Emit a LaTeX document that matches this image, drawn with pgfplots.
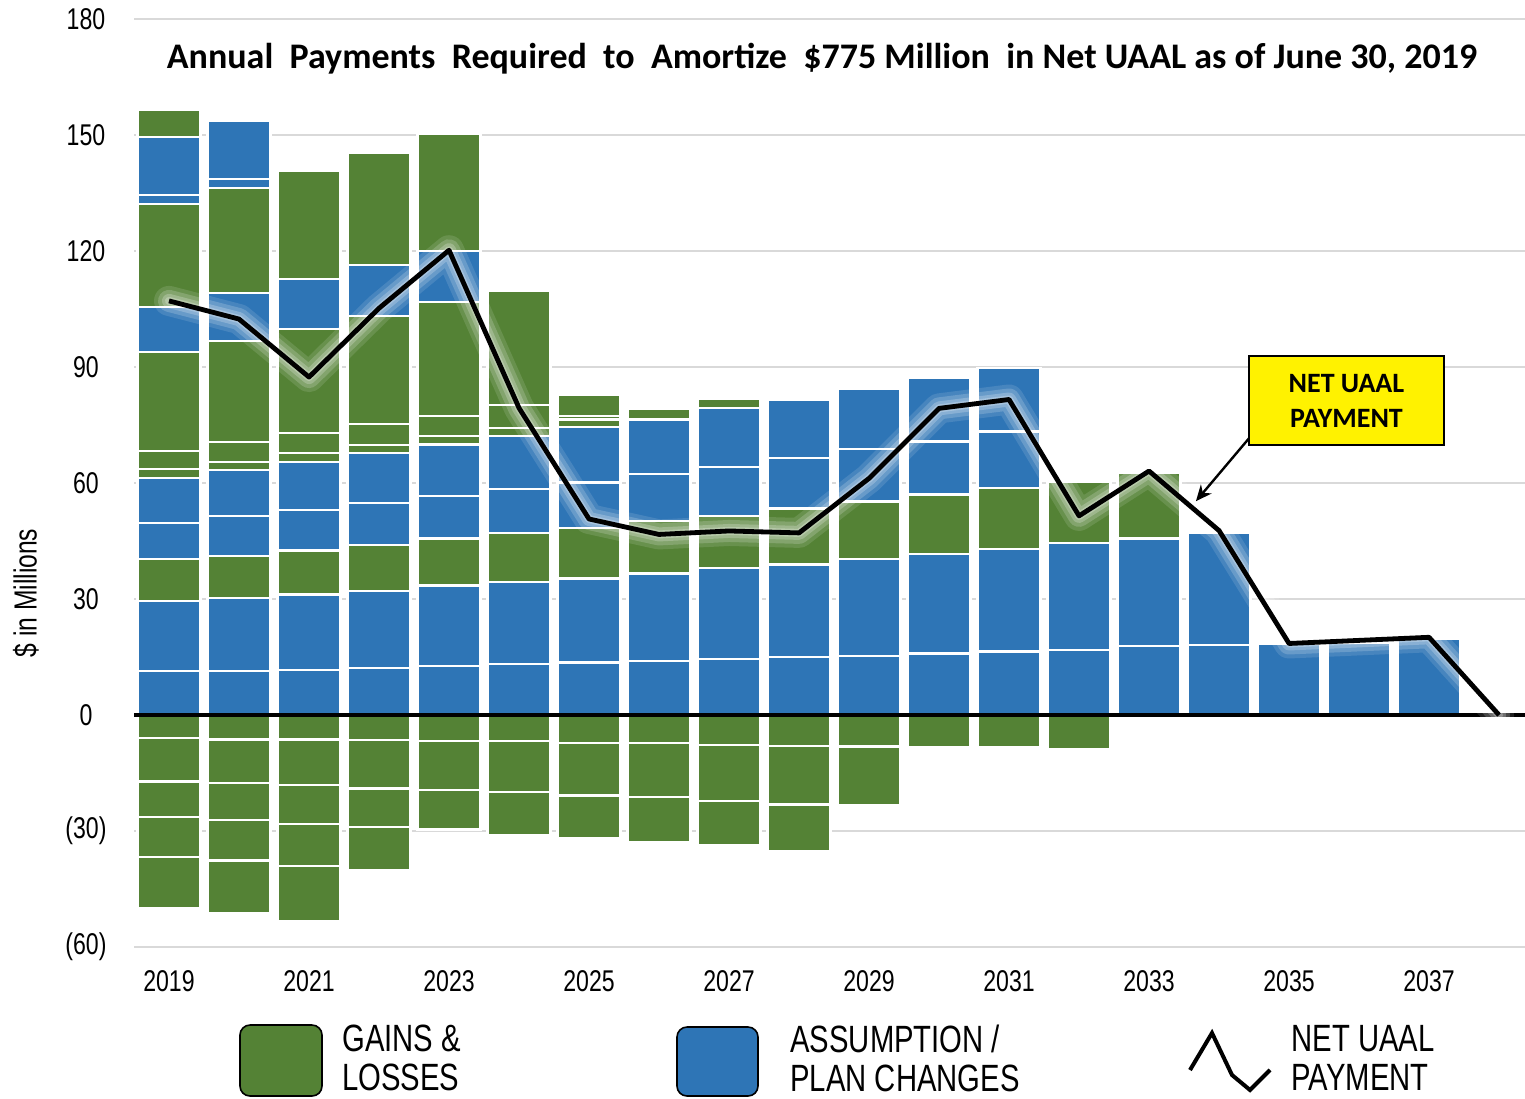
\documentclass[border=0pt]{standalone}
\usepackage{pgfplots}
\pgfplotsset{compat=1.18}
\usepackage{fontspec}
\setmainfont{Carlito}
\newfontfamily\narrow[FakeStretch=0.77]{Liberation Sans}
\usetikzlibrary{arrows.meta}
\definecolor{gl}{HTML}{548235}
\definecolor{as}{HTML}{2E75B6}
\begin{document}
\begin{tikzpicture}
\path[use as bounding box] (0pt,0pt) rectangle (762.5pt,-549pt);
\begin{axis}[
  at={(67pt,-473.5pt)}, anchor=south west,
  scale only axis, width=695.5pt, height=464pt,
  xmin=2018.5, xmax=2038.371, ymin=-60, ymax=180,
  axis line style={draw=none},
  major tick length=0pt,
  ytick={-60,-30,0,30,60,90,120,150,180},
  yticklabels={(60),(30),0,30,60,90,120,150,180},
  xtick={2019,2021,2023,2025,2027,2029,2031,2033,2035,2037},
  xticklabels={2019,2021,2023,2025,2027,2029,2031,2033,2035,2037},
  ymajorgrids, grid style={line width=1pt, color=black!15},
  yticklabel style={font=\narrow\fontsize{15}{16}\selectfont, anchor=center, xshift=-24pt},
  xticklabel style={font=\narrow\fontsize{15}{16}\selectfont, anchor=center, yshift=-17pt},
  /pgf/number format/assume math mode=true,
  seg/.style={ybar, bar width=31.5pt, bar shift=0pt, draw=white, line width=1.2pt},
  clip=false,
]
% ---- negative stack (gains & losses), painter order ----
\addplot[seg, fill=gl] coordinates {(2019,-49.9) (2020,-51.3) (2021,-53.2)};
\addplot[seg, fill=gl] coordinates {(2019,-36.7) (2020,-37.6) (2021,-39.0) (2022,-40.1)};
\addplot[seg, fill=gl] coordinates {(2019,-26.4) (2020,-27.2) (2021,-28.2) (2022,-29.0) (2023,-29.6) (2024,-31.0) (2025,-31.9) (2026,-32.8) (2027,-33.6) (2028,-35.1)};
\addplot[seg, fill=gl] coordinates {(2019,-17.2) (2020,-17.6) (2021,-18.1) (2022,-19.0) (2023,-19.4) (2024,-19.9) (2025,-20.8) (2026,-21.2) (2027,-22.2) (2028,-23.1) (2029,-23.3)};
\addplot[seg, fill=gl] coordinates {(2019,-5.9) (2020,-6.3) (2021,-6.3) (2022,-6.5) (2023,-6.7) (2024,-6.7) (2025,-7.2) (2026,-7.2) (2027,-7.8) (2028,-8.0) (2029,-8.1) (2030,-8.4) (2031,-8.3) (2032,-8.8)};
% ---- positive stack, cumulative tops, painter order ----
\addplot[seg, fill=gl] coordinates {(2019,156.5)};
\addplot[seg, fill=as] coordinates {(2019,149.5) (2020,153.7)};
\addplot[seg, fill=as] coordinates {(2019,134.5) (2020,138.6)};
\addplot[seg, fill=gl] coordinates {(2019,132.1) (2020,136.3) (2021,140.7) (2022,145.3) (2023,150.2)};
\addplot[seg, fill=as] coordinates {(2019,105.5) (2020,109.1) (2021,112.7) (2022,116.4) (2023,120.0)};
\addplot[seg, fill=gl] coordinates {(2019,93.9) (2020,96.7) (2021,99.9) (2022,103.2) (2023,106.8) (2024,109.6) (2025,82.8)};
\addplot[seg, fill=gl] coordinates {(2019,68.3) (2020,70.6) (2021,72.9) (2022,75.3) (2023,77.3) (2024,80.2) (2025,77.3)};
\addplot[seg, fill=gl] coordinates {(2019,63.6) (2020,65.4) (2021,67.8) (2022,69.9) (2023,72.1) (2024,74.3) (2025,76.4) (2026,79.1) (2027,81.7)};
\addplot[seg, fill=as] coordinates {(2019,61.3) (2020,63.4) (2021,65.4) (2022,67.7) (2023,70.0) (2024,72.1) (2025,74.5) (2026,76.4) (2027,79.4) (2028,81.6) (2029,84.3) (2030,87.1) (2031,89.8)};
\addplot[seg, fill=as] coordinates {(2019,49.7) (2020,51.5) (2021,53.0) (2022,54.8) (2023,56.6) (2024,58.4) (2025,60.1) (2026,62.4) (2027,64.2) (2028,66.5) (2029,68.8) (2030,70.7) (2031,73.3)};
\addplot[seg, fill=gl] coordinates {(2019,40.3) (2020,41.1) (2021,42.5) (2022,44.0) (2023,45.6) (2024,47.1) (2025,48.4) (2026,50.2) (2027,51.5) (2028,53.4) (2029,55.2) (2030,57.0) (2031,58.7) (2032,60.3) (2033,62.7)};
\addplot[seg, fill=as] coordinates {(2019,29.5) (2020,30.3) (2021,31.2) (2022,32.1) (2023,33.5) (2024,34.4) (2025,35.3) (2026,36.6) (2027,38.0) (2028,38.9) (2029,40.3) (2030,41.6) (2031,42.9) (2032,44.5) (2033,45.7) (2034,47.2)};
\addplot[seg, fill=as] coordinates {(2019,11.4) (2020,11.4) (2021,11.6) (2022,12.2) (2023,12.7) (2024,13.2) (2025,13.6) (2026,14.0) (2027,14.5) (2028,15.0) (2029,15.3) (2030,15.9) (2031,16.4) (2032,16.8) (2033,17.8) (2034,18.1) (2035,18.4) (2036,18.7) (2037,19.6)};
% ---- zero line ----
\addplot[black, line width=1.6pt] coordinates {(2018.5,0) (2038.371,0)};
% ---- net UAAL payment: glow + line ----
\pgfplotstableread{
yr val
2019 107.1
2020 102.4
2021 87.4
2022 105.2
2023 120.2
2024 79.4
2025 50.7
2026 46.7
2027 47.6
2028 47.1
2029 61.2
2030 79.3
2031 81.6
2032 51.5
2033 63.1
2034 47.7
2035 18.5
2036 19.3
2037 20.1
2038 0
}\netdata
\addplot[white, opacity=0.12, line width=15pt, line join=round, line cap=round] table[x=yr,y=val] {\netdata};
\addplot[white, opacity=0.18, line width=11pt, line join=round, line cap=round] table[x=yr,y=val] {\netdata};
\addplot[white, opacity=0.22, line width=7pt, line join=round, line cap=round] table[x=yr,y=val] {\netdata};
\addplot[white, opacity=0.25, line width=4pt, line join=round, line cap=round] table[x=yr,y=val] {\netdata};
\addplot[black, line width=2.4pt, line join=round] table[x=yr,y=val] {\netdata};
% ---- annotation ----
\draw[-{Stealth[length=8pt,width=7pt]}, line width=1.2pt] (axis cs:2034.43,71.6) -- (axis cs:2033.67,55.3);
\node[fill=yellow, draw=black, line width=0.8pt, minimum width=97.5pt, minimum height=44.5pt, align=center, inner sep=0pt, font=\bfseries\fontsize{14}{17.5}\selectfont] at (axis cs:2035.82,81.3) {NET UAAL\\PAYMENT};
\end{axis}
% ---- title ----
\node[font=\bfseries\fontsize{18}{20}\selectfont] at (411pt,-29.5pt) {Annual\ \ Payments\ \ Required\ \ to\ \ Amortize\ \ \$775 Million\ \ in Net UAAL as of June 30, 2019};
% ---- y label ----
\node[rotate=90, font=\narrow\fontsize{16}{18}\selectfont] at (13pt,-296.5pt) {\$ in Millions};
% ---- legend ----
\draw[fill=gl, rounded corners=5pt, line width=0.8pt] (120pt,-512.5pt) rectangle (161pt,-548pt);
\node[anchor=west, align=left, inner sep=0pt, font=\narrow\fontsize{19}{19.5}\selectfont] at (171pt,-529pt) {GAINS \&\\LOSSES};
\draw[fill=as, rounded corners=5pt, line width=0.8pt] (338.5pt,-513.5pt) rectangle (379pt,-548pt);
\node[anchor=west, align=left, inner sep=0pt, font=\narrow\fontsize{19}{19.5}\selectfont] at (395pt,-529pt) {ASSUMPTION /\\PLAN CHANGES};
\draw[line width=2pt, line join=miter] (595pt,-535pt) -- (606pt,-516.5pt) -- (616pt,-537.5pt) -- (625pt,-545pt) -- (635pt,-535pt);
\node[anchor=west, align=left, inner sep=0pt, font=\narrow\fontsize{19}{19.5}\selectfont] at (645.5pt,-529pt) {NET UAAL\\PAYMENT};
\end{tikzpicture}
\end{document}
